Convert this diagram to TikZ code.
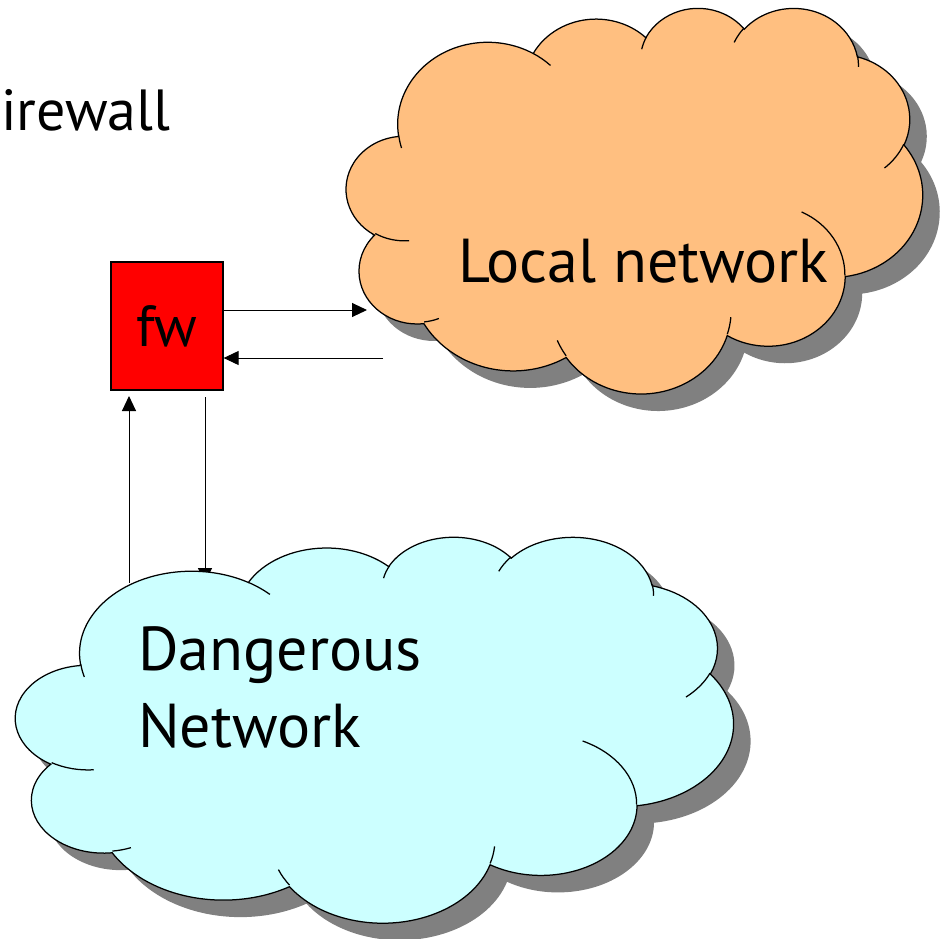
\documentclass[tikz,border=0pt]{standalone}
\usepackage{fontspec}
\setmainfont{PT Sans}
\usetikzlibrary{arrows.meta}
\definecolor{localfill}{RGB}{255,191,128}
\definecolor{dangerfill}{RGB}{204,255,255}
\definecolor{shadowgray}{RGB}{128,128,128}
\definecolor{fwred}{RGB}{255,0,0}
\newcommand\cloudpath{%
(39.00,143.70)
arc[start angle=-187.75,end angle=-59.64,x radius=67.53,y radius=91.90]
arc[start angle=-152.02,end angle=-45.46,x radius=53.33,y radius=72.67]
arc[start angle=-153.49,end angle=-37.32,x radius=43.65,y radius=59.45]
arc[start angle=-139.72,end angle=-10.21,x radius=48.57,y radius=65.95]
arc[start angle=-74.77,end angle=23.21,x radius=53.33,y radius=72.73]
arc[start angle=-37.53,end angle=81.86,x radius=67.75,y radius=92.20]
arc[start angle=0.46,end angle=121.98,x radius=57.85,y radius=78.67]
arc[start angle=16.84,end angle=146.24,x radius=67.52,y radius=92.15]
arc[start angle=58.98,end angle=150.19,x radius=77.20,y radius=105.43]
arc[start angle=83.31,end angle=223.09,x radius=43.60,y radius=59.18]
arc[start angle=120.36,end angle=264.11,x radius=43.45,y radius=59.45]
-- cycle}
\newcommand\cloudstubs{%
(46.93,261.77) arc[start angle=85.55,end angle=120.36,x radius=43.45,y radius=59.45]
(69.28,348.99) arc[start angle=68.23,end angle=83.31,x radius=43.60,y radius=59.18]
(164.78,390.90) arc[start angle=146.24,end angle=158.48,x radius=67.52,y radius=92.15]
(288.27,347.51) arc[start angle=4.74,end angle=16.84,x radius=67.52,y radius=92.15]
(341.29,229.54) arc[start angle=-64.03,end angle=0.46,x radius=57.85,y radius=78.67]
(417.98,153.54) arc[start angle=23.21,end angle=49.65,x radius=53.33,y radius=72.73]
(383.24,54.26) arc[start angle=-10.21,end angle=0.82,x radius=48.57,y radius=65.95]
(290.78,39.52) arc[start angle=-156.29,end angle=-139.72,x radius=48.57,y radius=65.95]
(221.41,47.20) arc[start angle=-167.72,end angle=-153.49,x radius=43.65,y radius=59.45]
(140.00,51.92) arc[start angle=-59.64,end angle=-45.74,x radius=67.53,y radius=91.90]
(41.27,157.89) arc[start angle=164.08,end angle=173.11,x radius=67.53,y radius=91.90]}
\tikzset{
  cloudline/.style={draw=black,line width=1.25pt},
  cloudshadow/.style={fill=shadowgray,draw=none},
  arr/.style={draw=black,line width=1pt,-{Triangle[length=15pt,width=14pt]}},
  fwbox/.style={draw=black,line width=1.3pt,fill=fwred,minimum width=112pt,minimum height=128pt,inner sep=0pt,font=\fontsize{58}{62}\selectfont},
  titletext/.style={inner sep=0pt,font=\fontsize{58}{64}\selectfont},
  bigtext/.style={inner sep=0pt,font=\fontsize{62}{68}\selectfont}
}
\begin{document}
\begin{tikzpicture}[x=1pt,y=1pt]
\useasboundingbox[fill=white] (0,0) rectangle (943,-938);
% shadows
\begin{scope}[shift={(363.5pt,-24.1pt)},x=1.33333pt,y=-0.89236pt]
  \path[cloudshadow] \cloudpath;
\end{scope}
\begin{scope}[shift={(32.8pt,-553pt)},x=1.66088pt,y=-0.89306pt]
  \path[cloudshadow] \cloudpath;
\end{scope}
% title
\node[titletext,anchor=base west] (title) at (1,-130) {irewall};
% firewall box
\node[fwbox] (fw) at (167,-326) {\raisebox{-4pt}{fw}};
% connector end points
\coordinate (lin) at (367,-310);
\coordinate (lout) at (383,-358);
\coordinate (dupstart) at (129,-583);
\coordinate (dupend) at (129,-396);
\coordinate (ddownstart) at (205,-397);
\coordinate (ddownend) at (205,-583);
\draw[arr] (fw.east |- lin) -- (lin);
\draw[arr] (lout) -- (fw.east |- lout);
\draw[arr] (dupstart) -- (dupend);
\draw[arr] (ddownstart) -- (ddownend);
% local network cloud
\begin{scope}[shift={(346.5pt,-7.1pt)},x=1.33333pt,y=-0.89236pt]
  \path[cloudline,fill=localfill] \cloudpath;
  \draw[cloudline] \cloudstubs;
\end{scope}
% dangerous network cloud
\begin{scope}[shift={(15.8pt,-536pt)},x=1.66088pt,y=-0.89306pt]
  \path[cloudline,fill=dangerfill] \cloudpath;
  \draw[cloudline] \cloudstubs;
\end{scope}
\node[bigtext,anchor=base west] (local) at (458,-282) {Local network};
\node[bigtext,anchor=base west] (danger1) at (138,-670) {Dangerous};
\node[bigtext,anchor=base west] (danger2) at (138,-747) {Network};
\end{tikzpicture}
\end{document}
